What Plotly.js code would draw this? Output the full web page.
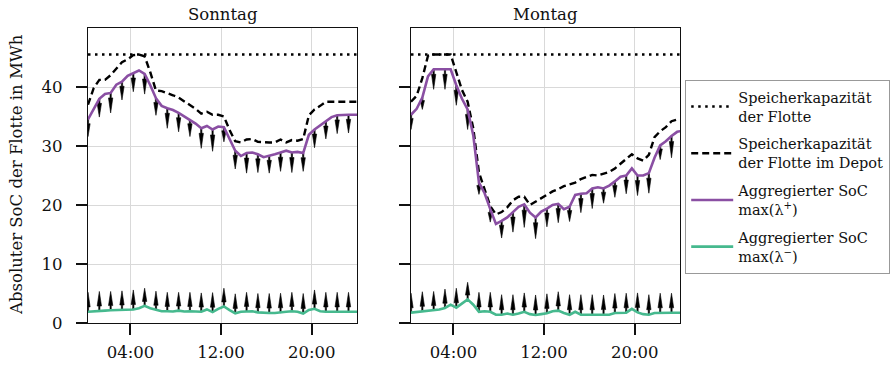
<!DOCTYPE html>
<html><head><meta charset="utf-8">
<script src="https://cdn.plot.ly/plotly-3.0.1.min.js"></script>
<style>html,body{margin:0;padding:0;background:#fff}#chart{width:892px;height:367px}</style>
</head><body><div id="chart"></div>
<script>
// time axis (hours), half-hour samples
const hours = [0.25,0.75,1.25,1.75,2.25,2.75,3.25,3.75,4.25,4.75,5.25,5.75,6.25,6.75,7.25,7.75,8.25,8.75,9.25,9.75,10.25,10.75,11.25,11.75,12.25,12.75,13.25,13.75,14.25,14.75,15.25,15.75,16.25,16.75,17.25,17.75,18.25,18.75,19.25,19.75,20.25,20.75,21.25,21.75,22.25,22.75,23.25,23.75,24.25];
const arrowHours = [0.25,1.25,2.25,3.25,4.25,5.25,6.25,7.25,8.25,9.25,10.25,11.25,12.25,13.25,14.25,15.25,16.25,17.25,18.25,19.25,20.25,21.25,22.25,23.25];
const tickVals = [4,12,20];
const tickText = ['04:00','12:00','20:00'];
const panelTitles = ['Sonntag','Montag'];
const fleetCapacity = 45.5;

// Sonntag
const sunDepot = [37.0,39.8,41.2,41.2,42.0,43.2,44.2,44.7,45.4,45.5,45.2,42.5,39.4,39.3,39.0,38.6,38.2,37.6,37.0,36.3,35.5,35.8,35.3,35.3,35.0,32.7,30.8,30.6,31.1,31.2,30.7,30.6,30.6,30.6,31.1,30.6,31.0,30.9,31.2,35.2,36.2,36.8,37.5,37.5,37.5,37.5,37.5,37.5,37.5];
const sunSocPlus = [34.5,36.3,38.0,38.8,39.0,40.4,40.9,41.9,42.3,42.8,42.2,40.3,38.1,36.8,36.4,36.1,35.6,35.0,34.5,33.8,33.0,33.4,32.8,33.3,33.2,31.3,29.2,28.3,28.8,28.9,28.6,28.1,28.3,28.6,28.9,29.2,28.9,29.0,28.8,31.9,32.8,33.5,34.1,34.9,35.2,35.3,35.3,35.3,35.3];
const sunSocMinus = [1.9,2.0,2.05,2.1,2.15,2.2,2.25,2.3,2.3,2.5,2.9,2.5,2.2,2.0,2.0,1.95,2.1,1.95,2.0,2.0,1.9,2.3,1.85,2.4,2.8,2.2,1.65,1.9,2.0,2.0,1.8,1.7,1.7,1.7,1.75,1.9,2.0,1.9,1.6,2.2,2.4,2.0,1.9,1.9,1.9,1.9,1.9,1.9,1.9];
const sunDownArrow = [2.9,3.1,3.4,3.1,3.1,3.4,2.9,3.4,3.2,2.9,3.4,3.7,2.5,3.1,3.4,3.1,2.9,3.2,3.4,3.1,3.1,2.9,3.1,3.1];
const sunUpArrow = [3.3,3.3,3.2,3.2,3.3,3.0,3.2,3.2,3.1,3.2,3.2,3.3,3.1,3.3,3.2,3.2,3.3,3.3,3.2,3.4,3.2,3.3,3.3,3.3];

// Montag
const monDepot = [37.5,38.5,41.5,45.3,45.5,45.5,45.5,45.5,42.5,39.5,37.5,33.0,25.5,22.8,19.8,18.4,18.8,19.6,20.8,21.4,21.4,20.0,20.6,21.2,21.7,22.3,22.7,23.2,23.5,23.8,24.4,24.8,25.1,25.0,25.3,25.6,26.2,27.0,27.8,28.6,27.9,27.5,28.5,31.5,32.5,33.2,34.2,34.5,34.5];
const monSocPlus = [35.3,36.3,38.2,41.8,43.0,43.0,43.0,43.0,40.3,38.0,36.2,31.8,23.8,22.0,19.3,16.8,17.3,17.9,18.8,19.7,20.1,18.7,17.9,18.9,19.4,20.0,20.2,19.3,19.7,21.7,21.9,22.0,22.8,23.0,22.8,23.3,24.0,24.8,25.0,26.2,25.0,25.0,25.4,28.0,30.1,30.8,31.7,32.4,32.6];
const monSocMinus = [1.75,1.85,2.0,2.05,2.15,2.3,2.55,3.1,2.6,3.3,4.0,3.1,1.9,2.0,1.9,1.4,1.4,1.6,1.4,1.6,1.9,1.5,1.35,1.5,1.65,2.0,2.1,1.7,1.4,1.9,1.4,1.4,1.4,1.5,1.45,1.4,1.7,1.75,1.75,2.4,1.8,1.5,1.4,1.7,1.75,1.75,1.75,1.75,1.75];
const monDownArrow = [2.5,2.0,3.4,3.4,3.4,3.4,2.0,2.2,2.9,3.4,3.9,3.6,3.1,3.2,2.5,3.2,3.4,2.5,2.7,3.1,3.4,3.4,2.4,3.7];
const monUpArrow = [3.3,3.3,3.2,3.2,3.3,2.9,3.3,3.3,3.4,3.4,3.2,3.4,3.3,3.2,3.4,3.4,3.4,3.3,3.3,3.3,3.3,3.4,3.3,3.3];

const purple = '#8a4fa3';
const green = '#46b98e';
const ink = '#111111';
const font = 'DejaVu Serif, serif';

function pick(series, xs) {
  return xs.map(x => series[hours.indexOf(x)]);
}
function arrowTrace(xs, bases, lengths, dir, xa, ya) {
  const X = [], Y = [];
  const hw = 0.19, sw = 0.055;
  xs.forEach((x, i) => {
    const b = bases[i], L = lengths[i] * dir, tip = b + L, neck = b + L * 0.25;
    X.push(x - sw, x - sw, x - hw, x, x + hw, x + sw, x + sw, x - sw, null);
    Y.push(b, neck, neck, tip, neck, neck, b, b, null);
  });
  return {x: X, y: Y, xaxis: xa, yaxis: ya, mode: 'lines', fill: 'toself', fillcolor: '#000',
          line: {color: '#000', width: 0.6}, hoverinfo: 'skip', showlegend: false};
}

const panels = [
  {xa: 'x', ya: 'y', depot: sunDepot, plus: sunSocPlus, minus: sunSocMinus, down: sunDownArrow, up: sunUpArrow},
  {xa: 'x2', ya: 'y2', depot: monDepot, plus: monSocPlus, minus: monSocMinus, down: monDownArrow, up: monUpArrow}
];

const traces = [];
panels.forEach((p, k) => {
  const first = k === 0;
  traces.push(arrowTrace(arrowHours, pick(p.plus, arrowHours), p.down, -1, p.xa, p.ya));
  traces.push(arrowTrace(arrowHours, pick(p.minus, arrowHours), p.up, 1, p.xa, p.ya));
  traces.push({x: hours, y: hours.map(() => fleetCapacity), xaxis: p.xa, yaxis: p.ya, mode: 'lines',
    name: 'Speicherkapazität<br>der Flotte', legendgroup: 'a', showlegend: first,
    line: {color: '#000', width: 2.6, dash: '2.5px,4.5px'}});
  traces.push({x: hours, y: p.depot, xaxis: p.xa, yaxis: p.ya, mode: 'lines',
    name: 'Speicherkapazität<br>der Flotte im Depot', legendgroup: 'b', showlegend: first,
    line: {color: '#000', width: 2.4, dash: '7px,4px'}});
  traces.push({x: hours, y: p.plus, xaxis: p.xa, yaxis: p.ya, mode: 'lines',
    name: 'Aggregierter SoC<br>max(λ<sup>+</sup>)', legendgroup: 'c', showlegend: first,
    line: {color: purple, width: 2.6}});
  traces.push({x: hours, y: p.minus, xaxis: p.xa, yaxis: p.ya, mode: 'lines',
    name: 'Aggregierter SoC<br>max(λ<sup>−</sup>)', legendgroup: 'd', showlegend: first,
    line: {color: green, width: 2.6}});
});

const W = 892, H = 367;
function xaxis(d0, d1) {
  return {domain: [d0 / W, d1 / W], range: [0.25, 24], tickvals: tickVals, ticktext: tickText,
    ticks: 'outside', ticklen: 11, tickwidth: 2, tickcolor: ink, showline: true, linecolor: ink,
    linewidth: 1.3, mirror: true, showgrid: true, gridcolor: '#d9d9d9', gridwidth: 1, zeroline: false,
    tickfont: {family: font, size: 16.5, color: ink}, ticklabelstandoff: 3, fixedrange: true};
}
function yaxis(labels) {
  return {domain: [1 - 323 / H, 1 - 28 / H], range: [0, 50], tickvals: [0,10,20,30,40],
    ticks: 'outside', ticklen: 11, tickwidth: 2, tickcolor: ink, showline: true, linecolor: ink,
    linewidth: 1.3, mirror: true, showgrid: true, gridcolor: '#d9d9d9', gridwidth: 1, zeroline: false,
    showticklabels: labels, tickfont: {family: font, size: 16.5, color: ink}, ticklabelstandoff: 10, fixedrange: true};
}

const layout = {
  width: W, height: H, margin: {l: 0, r: 0, t: 0, b: 0},
  paper_bgcolor: '#fff', plot_bgcolor: '#fff',
  font: {family: font, color: ink, size: 14.5},
  xaxis: xaxis(88, 357), yaxis: yaxis(true),
  xaxis2: Object.assign(xaxis(411, 680), {anchor: 'y2'}),
  yaxis2: Object.assign(yaxis(false), {anchor: 'x2'}),
  showlegend: true,
  legend: {x: 685 / W, y: 1 - 80 / H, xanchor: 'left', yanchor: 'top', bgcolor: '#fff',
    bordercolor: '#999', borderwidth: 1.2, font: {family: font, size: 14.5, color: ink},
    traceorder: 'grouped', tracegroupgap: 6, itemwidth: 42},
  annotations: [
    {text: panelTitles[0], x: (88 + 357) / 2 / W, y: 1 - 14 / H, xref: 'paper', yref: 'paper',
     xanchor: 'center', yanchor: 'middle', showarrow: false, font: {family: font, size: 16.5, color: ink}},
    {text: panelTitles[1], x: (411 + 680) / 2 / W, y: 1 - 14 / H, xref: 'paper', yref: 'paper',
     xanchor: 'center', yanchor: 'middle', showarrow: false, font: {family: font, size: 16.5, color: ink}},
    {text: 'Absoluter SoC der Flotte in MWh', x: 16 / W, y: 1 - 175 / H, xref: 'paper', yref: 'paper',
     xanchor: 'center', yanchor: 'middle', textangle: -90, showarrow: false, font: {family: font, size: 16.5, color: ink}}
  ]
};

Plotly.newPlot('chart', traces, layout, {staticPlot: true, displayModeBar: false});
</script>
</body></html>
